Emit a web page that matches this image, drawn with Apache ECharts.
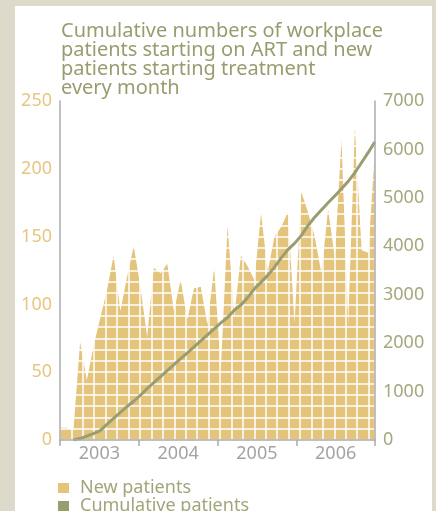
<!DOCTYPE html>
<html>
<head>
<meta charset="utf-8">
<script src="https://cdn.jsdelivr.net/npm/echarts@6/dist/echarts.min.js"></script>
<style>
html,body{margin:0;padding:0;background:#dddacb;width:436px;height:511px;overflow:hidden;}
#panel{position:absolute;left:15px;top:6px;width:417px;height:505px;background:#ffffff;}
</style>
</head>
<body>
<div id="panel"></div>
<script>
// ---- data ----
const years = ['2003', '2004', '2005', '2006'];
const monthNames = ['Jan','Feb','Mar','Apr','May','Jun','Jul','Aug','Sep','Oct','Nov','Dec'];
const newPatients = [9, 9, 7, 72, 44, 69, 90, 110, 136, 95, 120, 143, 113, 76, 127, 123, 130, 95, 118, 89, 112, 113, 85, 127, 52, 158, 91, 136, 128, 118, 167, 124, 150, 157, 168, 86, 183, 168, 150, 123, 170, 135, 221, 86, 230, 140, 138, 215];
const cumulativePatients = [null, null, 0, 30, 80, 130, 195, 322, 445, 568, 692, 800, 925, 1062, 1185, 1308, 1431, 1555, 1678, 1801, 1925, 2048, 2171, 2294, 2418, 2530, 2680, 2790, 2940, 3120, 3260, 3400, 3570, 3760, 3930, 4060, 4220, 4430, 4600, 4750, 4900, 5040, 5190, 5340, 5520, 5730, 5940, 6160];
const leftAxis = { min: 0, max: 250, interval: 50 };
const rightAxis = { min: 0, max: 7000, interval: 1000 };
const seriesNames = ['New patients', 'Cumulative patients'];
const titleText = 'Cumulative numbers of workplace\npatients starting on ART and new\npatients starting treatment\nevery month';

const months = [];
years.forEach(y => monthNames.forEach(m => months.push(m + ' ' + y)));

// ---- styles ----
const FONT = 'Noto Sans';
const GOLD = '#e4c37b';
const OLIVE = '#9a9d70';
const AXIS = '#ababab';
const GRIDLINE = '#ffffff';

const chart = echarts.init(document.getElementById('panel'), null, { renderer: 'canvas' });
chart.setOption({
  animation: false,
  title: {
    text: titleText,
    left: 46, top: 16, padding: 0,
    textStyle: { fontFamily: FONT, fontSize: 20, lineHeight: 19, fontWeight: 'normal', color: '#9a9c6f' }
  },
  legend: {
    orient: 'vertical', left: 43, top: 473, height: 80, padding: 0, itemGap: 0,
    itemWidth: 11, itemHeight: 10, icon: 'rect',
    data: seriesNames,
    textStyle: { fontFamily: FONT, fontSize: 18, lineHeight: 17, color: '#a3a579', padding: [0, 0, 0, 6] }
  },
  grid: [
    { left: 45, right: 57, top: 95, bottom: 71, containLabel: false },
    { left: 45, right: 57, top: 95, bottom: 71, containLabel: false, z: 50 }
  ],
  xAxis: [
    { type: 'category', data: months, boundaryGap: false, show: false, gridIndex: 0 },
    { type: 'category', data: years, boundaryGap: true, position: 'bottom', gridIndex: 0, zlevel: 2, z: 6,
      axisLine: { show: true, lineStyle: { color: AXIS, width: 1.5 } },
      axisTick: { show: true, length: 6, lineStyle: { color: AXIS, width: 1.5 } },
      axisLabel: { fontFamily: FONT, fontSize: 18, color: '#a3a3a3', margin: 5 },
      splitLine: { show: false } },
    { type: 'value', min: -0.726, max: 26.83, interval: 1, gridIndex: 1, zlevel: 1, z: 50,
      axisLine: { show: false }, axisTick: { show: false }, axisLabel: { show: false },
      splitLine: { show: true, lineStyle: { color: GRIDLINE, width: 1.5, opacity: 1 } } }
  ],
  yAxis: [
    { type: 'value', min: leftAxis.min, max: leftAxis.max, interval: leftAxis.interval, position: 'left', gridIndex: 0, zlevel: 2, z: 6,
      axisLine: { show: true, lineStyle: { color: AXIS, width: 1.5 } },
      axisTick: { show: false },
      axisLabel: { fontFamily: FONT, fontSize: 18, color: '#e6c680', margin: 8 },
      splitLine: { show: false } },
    { type: 'value', min: rightAxis.min, max: rightAxis.max, interval: rightAxis.interval, position: 'right', gridIndex: 0, zlevel: 2, z: 6,
      axisLine: { show: true, lineStyle: { color: AXIS, width: 1.5 } },
      axisTick: { show: false },
      axisLabel: { fontFamily: FONT, fontSize: 18, color: '#a5a77c', margin: 8, formatter: v => String(v) },
      splitLine: { show: false } },
    { type: 'value', min: 0, max: 30, interval: 1, gridIndex: 1, zlevel: 1, z: 50,
      axisLine: { show: false }, axisTick: { show: false }, axisLabel: { show: false },
      splitLine: { show: true, lineStyle: { color: GRIDLINE, width: 1.5, opacity: 1 } } }
  ],
  series: [
    { name: seriesNames[0], type: 'line', xAxisIndex: 0, yAxisIndex: 0, data: newPatients,
      showSymbol: false, symbol: 'none', zlevel: 0, z: 2, color: GOLD,
      lineStyle: { width: 0, color: GOLD }, areaStyle: { color: GOLD, opacity: 1 } },
    { name: seriesNames[1], type: 'line', xAxisIndex: 0, yAxisIndex: 1, data: cumulativePatients,
      showSymbol: false, symbol: 'none', zlevel: 2, z: 5, color: OLIVE,
      lineStyle: { width: 3, color: OLIVE } }
  ]
});
</script>
</body>
</html>
